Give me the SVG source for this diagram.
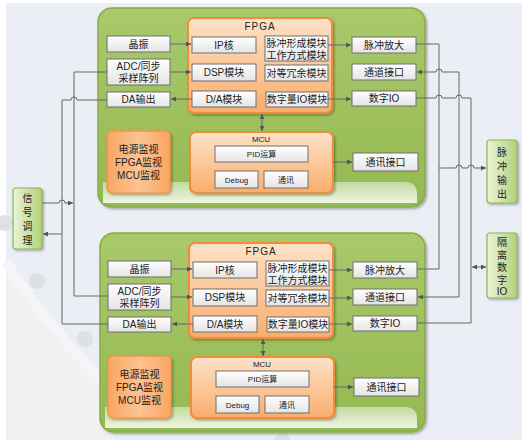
<svg xmlns="http://www.w3.org/2000/svg" width="528" height="440" viewBox="0 0 528 440">
<defs>
<linearGradient id="wg" x1="0" y1="0" x2="0" y2="1"><stop offset="0" stop-color="#ffffff"/><stop offset="1" stop-color="#e4e4e4"/></linearGradient>
<linearGradient id="og" x1="0" y1="0" x2="0" y2="1"><stop offset="0" stop-color="#fde2c8"/><stop offset="0.5" stop-color="#fcc89a"/><stop offset="1" stop-color="#f9ad6c"/></linearGradient>
<linearGradient id="pg" x1="0" y1="0" x2="1" y2="0"><stop offset="0" stop-color="#f8a662"/><stop offset="0.5" stop-color="#fcc393"/><stop offset="1" stop-color="#f8a662"/></linearGradient>
<linearGradient id="gg" x1="0" y1="0" x2="0" y2="1"><stop offset="0" stop-color="#a9c96b"/><stop offset="1" stop-color="#94b852"/></linearGradient>
<linearGradient id="gloss" x1="0" y1="0" x2="0" y2="1"><stop offset="0" stop-color="#c3dba0"/><stop offset="1" stop-color="#eef5e2"/></linearGradient>
<linearGradient id="sg" x1="0" y1="0" x2="1" y2="0"><stop offset="0" stop-color="#eaf3d8"/><stop offset="1" stop-color="#b3d17c"/></linearGradient>
<filter id="sh" x="-10%" y="-10%" width="130%" height="130%"><feDropShadow dx="1.5" dy="1.5" stdDeviation="1.2" flood-color="#000" flood-opacity="0.3"/></filter>
<marker id="ar" viewBox="0 0 10 10" refX="10" refY="5" markerWidth="5" markerHeight="5" orient="auto-start-reverse"><path d="M0,0 L10,5 L0,10 Z" fill="#555"/></marker>
<style>
.b{fill:url(#wg);stroke:#6e6e6e;stroke-width:1}
.t{font-family:"Liberation Sans","Noto Sans CJK SC",sans-serif;font-size:10px;fill:#222;text-anchor:middle}
.s{font-size:8px}
.v{font-size:10px}
.o{fill:url(#og);stroke:#f28c3e;stroke-width:2}
.p{fill:url(#pg);stroke:#f5954a;stroke-width:1.5}
.g{fill:url(#gg);stroke:#88ad45;stroke-width:1.5}
.side{fill:url(#sg);stroke:#8fb452;stroke-width:1.2}
.c{fill:none;stroke:#666;stroke-width:1}
</style>
</defs>
<rect x="0" y="0" width="528" height="440" fill="#ffffff"/>
<rect x="6" y="3" width="516" height="437" fill="#eceef6"/>
<path d="M6,262 Q45,325 115,393 L115,440 L6,440 Z" fill="#f1f1f2"/>
<path d="M6,262 Q45,325 115,393" fill="none" stroke="#f5f5f8" stroke-width="10"/>
<circle cx="5" cy="223" r="8" fill="#dfe0e5"/>
<circle cx="37" cy="281" r="8" fill="#dfe0e5"/>
<circle cx="85" cy="339" r="8" fill="#dfe0e5"/>
<circle cx="282" cy="441" r="8" fill="#dfe0e5"/>

<g id="panel1" filter="url(#sh)">
<rect class="g" x="98" y="8" width="327" height="199" rx="14"/>
<path d="M103,182 H405 Q417,182 417,194 V203 H103 Z" fill="url(#gloss)"/>
</g>
<g id="panel2" filter="url(#sh)">
<rect class="g" x="100" y="233" width="325" height="199" rx="14"/>
<path d="M105,407 H405 Q417,407 417,419 V428 H105 Z" fill="url(#gloss)"/>
</g>

<g id="top">
<g id="fpga1"><rect class="o" x="188" y="18" width="144" height="95" rx="6" filter="url(#sh)"/><text class="t" x="260" y="30" letter-spacing="1">FPGA</text></g>
<g id="mcu1"><rect class="o" x="190" y="132" width="143" height="61" rx="6" filter="url(#sh)"/><text class="t s" x="261" y="142">MCU</text></g>
<g id="xz1"><rect class="b" x="107" y="36" width="63" height="16"/><text class="t" x="138.5" y="48">晶振</text></g>
<g id="adc1"><rect class="b" x="107" y="59" width="63" height="26"/><text class="t" x="138.5" y="70">ADC/同步</text><text class="t" x="138.5" y="82">采样阵列</text></g>
<g id="da1"><rect class="b" x="107" y="92" width="63" height="15"/><text class="t" x="138.5" y="103">DA输出</text></g>
<g id="ip1"><rect class="b" x="192" y="37" width="64" height="16"/><text class="t" x="224" y="49">IP核</text></g>
<g id="dsp1"><rect class="b" x="192" y="64" width="64" height="17"/><text class="t" x="224" y="76">DSP模块</text></g>
<g id="dam1"><rect class="b" x="192" y="91" width="64" height="16"/><text class="t" x="224" y="103">D/A模块</text></g>
<g id="mc1"><rect class="b" x="265" y="36" width="63" height="25"/><text class="t" x="296.5" y="47">脉冲形成模块</text><text class="t" x="296.5" y="59">工作方式模块</text></g>
<g id="dd1"><rect class="b" x="265" y="65" width="63" height="16"/><text class="t" x="296.5" y="77">对等冗余模块</text></g>
<g id="sio1"><rect class="b" x="266" y="92" width="62" height="15"/><text class="t" x="297" y="103">数字量IO模块</text></g>
<g id="amp1"><rect class="b" x="352" y="37" width="64" height="16"/><text class="t" x="384" y="49">脉冲放大</text></g>
<g id="ch1"><rect class="b" x="352" y="64" width="64" height="16"/><text class="t" x="384" y="76">通道接口</text></g>
<g id="dio1"><rect class="b" x="352" y="91" width="64" height="15"/><text class="t" x="384" y="102">数字IO</text></g>
<g id="pwr1"><rect class="p" x="107" y="131" width="63" height="62" rx="5" filter="url(#sh)"/><text class="t" x="138.5" y="153" font-size="10.5">电源监视</text><text class="t" x="138.5" y="166" font-size="10.5">FPGA监视</text><text class="t" x="138.5" y="179" font-size="10.5">MCU监视</text></g>
<g id="pid1"><rect class="b" x="215" y="146" width="93" height="16"/><text class="t s" x="261.5" y="157">PID运算</text></g>
<g id="dbg1"><rect class="b" x="215" y="171" width="43" height="17"/><text class="t s" x="236.5" y="183">Debug</text></g>
<g id="tx1"><rect class="b" x="264" y="171" width="44" height="17"/><text class="t s" x="286" y="183">通讯</text></g>
<g id="com1"><rect class="b" x="353" y="153" width="65" height="18"/><text class="t" x="385.5" y="166">通讯接口</text></g>
</g>

<g id="bottom" transform="translate(1,225)">
<g id="fpga2"><rect class="o" x="188" y="18" width="144" height="95" rx="6" filter="url(#sh)"/><text class="t" x="260" y="30" letter-spacing="1">FPGA</text></g>
<g id="mcu2"><rect class="o" x="190" y="132" width="143" height="61" rx="6" filter="url(#sh)"/><text class="t s" x="261" y="142">MCU</text></g>
<g id="xz2"><rect class="b" x="107" y="36" width="63" height="16"/><text class="t" x="138.5" y="48">晶振</text></g>
<g id="adc2"><rect class="b" x="107" y="59" width="63" height="26"/><text class="t" x="138.5" y="70">ADC/同步</text><text class="t" x="138.5" y="82">采样阵列</text></g>
<g id="da2"><rect class="b" x="107" y="92" width="63" height="15"/><text class="t" x="138.5" y="103">DA输出</text></g>
<g id="ip2"><rect class="b" x="192" y="37" width="64" height="16"/><text class="t" x="224" y="49">IP核</text></g>
<g id="dsp2"><rect class="b" x="192" y="64" width="64" height="17"/><text class="t" x="224" y="76">DSP模块</text></g>
<g id="dam2"><rect class="b" x="192" y="91" width="64" height="16"/><text class="t" x="224" y="103">D/A模块</text></g>
<g id="mc2"><rect class="b" x="265" y="36" width="63" height="25"/><text class="t" x="296.5" y="47">脉冲形成模块</text><text class="t" x="296.5" y="59">工作方式模块</text></g>
<g id="dd2"><rect class="b" x="265" y="65" width="63" height="16"/><text class="t" x="296.5" y="77">对等冗余模块</text></g>
<g id="sio2"><rect class="b" x="266" y="92" width="62" height="15"/><text class="t" x="297" y="103">数字量IO模块</text></g>
<g id="amp2"><rect class="b" x="352" y="37" width="64" height="16"/><text class="t" x="384" y="49">脉冲放大</text></g>
<g id="ch2"><rect class="b" x="352" y="64" width="64" height="16"/><text class="t" x="384" y="76">通道接口</text></g>
<g id="dio2"><rect class="b" x="352" y="91" width="64" height="15"/><text class="t" x="384" y="102">数字IO</text></g>
<g id="pwr2"><rect class="p" x="107" y="131" width="63" height="62" rx="5" filter="url(#sh)"/><text class="t" x="138.5" y="153" font-size="10.5">电源监视</text><text class="t" x="138.5" y="166" font-size="10.5">FPGA监视</text><text class="t" x="138.5" y="179" font-size="10.5">MCU监视</text></g>
<g id="pid2"><rect class="b" x="215" y="146" width="93" height="16"/><text class="t s" x="261.5" y="157">PID运算</text></g>
<g id="dbg2"><rect class="b" x="215" y="171" width="43" height="17"/><text class="t s" x="236.5" y="183">Debug</text></g>
<g id="tx2"><rect class="b" x="264" y="171" width="44" height="17"/><text class="t s" x="286" y="183">通讯</text></g>
<g id="com2"><rect class="b" x="353" y="153" width="65" height="18"/><text class="t" x="385.5" y="166">通讯接口</text></g>
</g>

<g id="xtl"><rect class="side" x="13" y="188" width="29" height="61" rx="3" filter="url(#sh)"/><text class="t v" x="27.5" y="202">信</text><text class="t v" x="27.5" y="216">号</text><text class="t v" x="27.5" y="230">调</text><text class="t v" x="27.5" y="244">理</text></g>
<g id="mcout"><rect class="side" x="487" y="140" width="30" height="63" rx="3" filter="url(#sh)"/><text class="t v" x="502" y="156">脉</text><text class="t v" x="502" y="170">冲</text><text class="t v" x="502" y="184">输</text><text class="t v" x="502" y="198">出</text></g>
<g id="gldio"><rect class="side" x="487" y="233" width="30" height="65" rx="3" filter="url(#sh)"/><text class="t v" x="502" y="246">隔</text><text class="t v" x="502" y="258.5">离</text><text class="t v" x="502" y="271">数</text><text class="t v" x="502" y="283.5">字</text><text class="t v" x="502" y="295">IO</text></g>

<g id="connectors">
<path class="c" d="M170,44 H191" marker-end="url(#ar)"/>
<path class="c" d="M170,72 H191" marker-end="url(#ar)"/>
<path class="c" d="M192,99 H171" marker-end="url(#ar)"/>
<path class="c" d="M328,45 H351" marker-end="url(#ar)"/>
<path class="c" d="M328,99 H351" marker-end="url(#ar)"/>
<path class="c" d="M333,162 H352" marker-end="url(#ar)"/>
<path class="c" d="M262,114 V131" marker-start="url(#ar)" marker-end="url(#ar)"/>

<path class="c" d="M171,269 H192" marker-end="url(#ar)"/>
<path class="c" d="M171,297 H192" marker-end="url(#ar)"/>
<path class="c" d="M193,324 H172" marker-end="url(#ar)"/>
<path class="c" d="M329,270 H352" marker-end="url(#ar)"/>
<path class="c" d="M329,298 H352" marker-end="url(#ar)"/>
<path class="c" d="M329,324 H352" marker-end="url(#ar)"/>
<path class="c" d="M334,387 H353" marker-end="url(#ar)"/>
<path class="c" d="M263,339 V356" marker-start="url(#ar)" marker-end="url(#ar)"/>

<path class="c" d="M416,44 H439 V269 H417"/>
<path class="c" d="M459,297 V72 H442 A3,3 0 0 0 436,72 H417" marker-end="url(#ar)"/>
<path class="c" d="M459,297 H418" marker-end="url(#ar)"/>
<path class="c" d="M416,98 H436 A3,3 0 0 1 442,98 H456 A3,3 0 0 1 462,98 H471 V323 H417"/>
<path class="c" d="M439,168 H456 A3,3 0 0 1 462,168 H468 A3,3 0 0 1 474,168 H486" marker-end="url(#ar)"/>
<path class="c" d="M472,267 H486" marker-start="url(#ar)" marker-end="url(#ar)"/>

<path class="c" d="M107,100 H77 A3,3 0 0 0 71,100 H62 V324 H108"/>
<path class="c" d="M62,234 H43" marker-end="url(#ar)"/>
<path class="c" d="M107,72 H74 V296 H108"/>
<path class="c" d="M42,203 H59 A3,3 0 0 1 65,203 H73" marker-end="url(#ar)"/>
</g>
</svg>
